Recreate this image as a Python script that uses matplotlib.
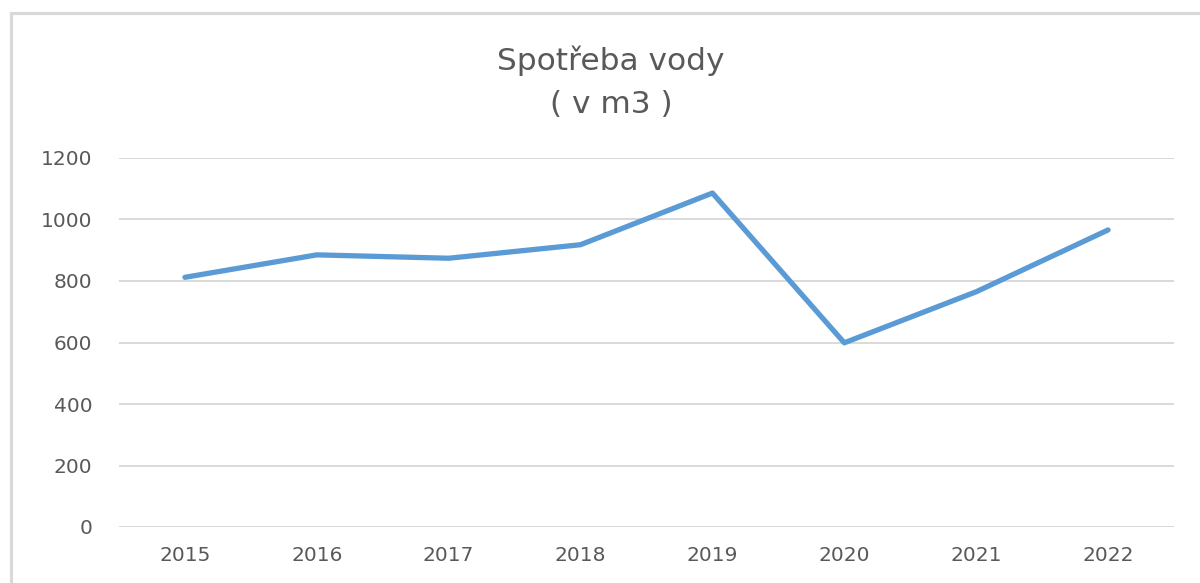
import matplotlib
matplotlib.use("Agg")
import matplotlib.pyplot as plt
from matplotlib.patches import Rectangle

years = ["2015", "2016", "2017", "2018", "2019", "2020", "2021", "2022"]
consumption = [812, 885, 874, 918, 1086, 599, 765, 966]
yticks = [0, 200, 400, 600, 800, 1000, 1200]
title = "Spotřeba vody\n( v m3 )"

plt.rcParams['font.family'] = ['DejaVu Sans']
text_color = '#595959'

fig = plt.figure(figsize=(12, 5.83), dpi=100)
ax = fig.add_axes([119/1200, 1 - 527/583, (1174-119)/1200, (527-158)/583])

x = list(range(len(years)))
ax.plot(x, consumption, color='#5B9BD5', linewidth=3.8, solid_capstyle='round', solid_joinstyle='round', zorder=3)

ax.set_xlim(-0.5, len(years) - 0.5)
ax.set_ylim(0, 1200)
ax.set_yticks(yticks)
ax.set_xticks(x)
ax.set_xticklabels(years)
ax.grid(axis='y', color='#D9D9D9', linewidth=1.4)
ax.set_axisbelow(True)
for s in ax.spines.values():
    s.set_visible(False)
ax.tick_params(axis='both', length=0, labelsize=14.5, colors=text_color)
ax.tick_params(axis='y', pad=19)
ax.tick_params(axis='x', pad=14)

fig.text(611/1200, 1 - 82/583, title, ha='center', va='center', fontsize=22.5,
         color=text_color, linespacing=1.6)

fig.patches.append(Rectangle((11/1200, -0.1), 1.2, 1 - 13/583 + 0.1, transform=fig.transFigure,
                             fill=False, edgecolor='#D9D9D9', linewidth=2.2))

fig.savefig('out.png', dpi=100)
